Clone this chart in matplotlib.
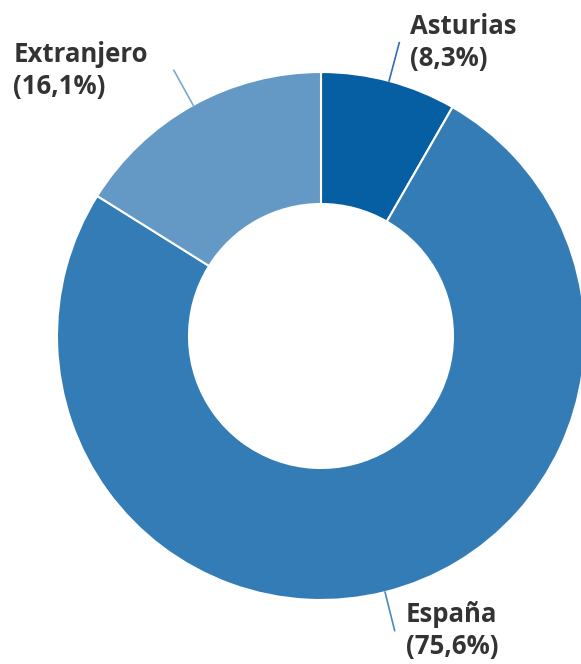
import numpy as np
import matplotlib
matplotlib.use("Agg")
import matplotlib.pyplot as plt

# shares of the donut, in drawing order (clockwise from the top)
labels = ["Asturias", "España", "Extranjero"]
shares = [8.3, 75.6, 16.1]
colors = ["#065ea3", "#347cb6", "#6399c4"]
line_colors = ["#2f6fae", "#4a88bf", "#7aa8cf"]

W, H = 581, 664
fig = plt.figure(figsize=(W / 100, H / 100), dpi=100)

# donut centre and radius in pixels
cx, cy, R = 321, 336, 264
ax = fig.add_axes([(cx - R) / W, (H - cy - R) / H, 2 * R / W, 2 * R / H])
ax.axis("off")

wedges, _ = ax.pie(shares, colors=colors, startangle=90, counterclock=False,
                   radius=1, wedgeprops=dict(width=0.5, edgecolor="white", linewidth=1.5))
ax.set_xlim(-1, 1)
ax.set_ylim(-1, 1)
ax.set_aspect("auto")

for w, lab, val, lc in zip(wedges, labels, shares, line_colors):
    ang = np.deg2rad((w.theta1 + w.theta2) / 2)
    x0, y0 = np.cos(ang), np.sin(ang)
    x1, y1 = 1.15 * x0, 1.15 * y0
    ax.plot([x0, x1], [y0, y1], color=lc, lw=1.2, clip_on=False)
    txt = "%s\n(%s%%)" % (lab, ("%.1f" % val).replace(".", ","))
    right = x0 >= 0
    ax.annotate(txt, (x1, y1), xytext=(11 if right else -26, 0),
                textcoords="offset pixels", annotation_clip=False,
                ha="left" if right else "right", va="center",
                multialignment="left", fontsize=18.5, fontweight="bold",
                family="Open Sans", color="#333333", linespacing=1.22)

fig.savefig("out.png", dpi=100)
